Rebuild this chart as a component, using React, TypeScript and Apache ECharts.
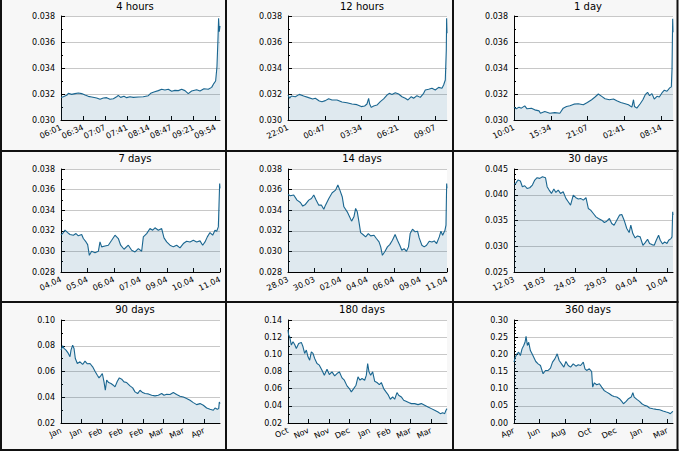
import React, { useEffect, useRef } from "react";
import * as echarts from "echarts";

// x tick labels of every panel
const ticks4h = ["06:01", "06:34", "07:07", "07:41", "08:14", "08:47", "09:21", "09:54"];
const ticks12h = ["22:01", "00:47", "03:34", "06:21", "09:07"];
const ticks1d = ["10:01", "15:34", "21:07", "02:41", "08:14"];
const ticks7d = ["04.04", "05.04", "06.04", "07.04", "09.04", "10.04", "11.04"];
const ticks14d = ["28.03", "30.03", "02.04", "04.04", "06.04", "09.04", "11.04"];
const ticks30d = ["12.03", "18.03", "24.03", "29.03", "04.04", "10.04"];
const ticks90d = ["Jan", "Jan", "Feb", "Feb", "Feb", "Mar", "Mar", "Apr"];
const ticks180d = ["Oct", "Nov", "Nov", "Dec", "Jan", "Feb", "Mar", "Mar"];
const ticks360d = ["Apr", "Jun", "Aug", "Oct", "Dec", "Jan", "Mar"];

// [minutes since start, rate]
const rate4h = [
	[0, 0.03174], [3.5, 0.03179], [8.6, 0.0319], [11.1, 0.03205], [16.1, 0.03197], [21.1, 0.03203],
	[26.2, 0.03208], [31.2, 0.03203], [36.2, 0.03192], [41.2, 0.03182], [46.3, 0.03177], [53.8, 0.03169],
	[58.9, 0.03159], [63.9, 0.03169], [68.9, 0.03172], [73.9, 0.03159], [79, 0.03164], [84, 0.03179],
	[86.5, 0.0319], [90, 0.03174], [95.1, 0.03182], [99.1, 0.03172], [104.1, 0.03179], [109.2, 0.03174],
	[116.7, 0.03177], [124.2, 0.03179], [131.8, 0.03187], [135.3, 0.03205], [140.3, 0.03215], [146.9, 0.03226],
	[151.9, 0.03236], [156.9, 0.03231], [162, 0.03236], [167, 0.03221], [172, 0.03228], [177.1, 0.03226],
	[182.1, 0.03236], [187.1, 0.03226], [192.1, 0.03203], [197.2, 0.03223], [204.7, 0.03233], [209.8, 0.03223],
	[215.8, 0.03241], [222.3, 0.03236], [227.4, 0.03251], [230.9, 0.03282], [233.4, 0.033], [235.4, 0.0341],
	[236.9, 0.03615], [237.9, 0.03782], [238.9, 0.03679], [240, 0.03723],
];

// [minutes since start, rate]
const rate12h = [
	[0, 0.03192], [7.5, 0.03167], [15.1, 0.03185], [33.2, 0.03179], [51.3, 0.03197], [70.9, 0.03185],
	[93.6, 0.03172], [111.7, 0.03162], [123.7, 0.03167], [141.8, 0.03146], [153.9, 0.03141], [169, 0.03149],
	[184.1, 0.03164], [199.2, 0.03154], [221.8, 0.03154], [244.5, 0.03138], [267.1, 0.03133], [289.7, 0.03123],
	[312.4, 0.03118], [332, 0.03103], [347.1, 0.03108], [357.6, 0.03123], [365.2, 0.03167], [369.7, 0.03123],
	[377.3, 0.03097], [387.8, 0.03108], [402.9, 0.03115], [418, 0.03141], [433.1, 0.03162], [448.2, 0.03192],
	[458.7, 0.03205], [470.8, 0.03197], [485.9, 0.0321], [501, 0.032], [516.1, 0.03179], [531.2, 0.03167],
	[543.2, 0.03154], [558.3, 0.03179], [568.9, 0.03167], [584, 0.03187], [599.1, 0.03174], [614.2, 0.03205],
	[621.7, 0.03231], [636.8, 0.03236], [651.9, 0.03244], [667, 0.03231], [682.1, 0.03251], [697.2, 0.03244],
	[704.7, 0.03269], [712.3, 0.03308], [716.8, 0.03538], [718.3, 0.03782], [720, 0.03667],
];

// [hours since start, rate]
const rate1d = [
	[0, 0.03099], [0.35, 0.03086], [0.76, 0.03099], [1.11, 0.03091], [1.62, 0.03109], [1.97, 0.03086],
	[2.63, 0.03091], [3.13, 0.03078], [3.79, 0.0307], [3.99, 0.03052], [4.65, 0.03065], [5.41, 0.03052],
	[6.16, 0.03057], [6.92, 0.03052], [7.43, 0.03091], [7.93, 0.03104], [8.44, 0.03109], [9.04, 0.03122],
	[9.7, 0.03125], [10.46, 0.03117], [11.07, 0.03135], [11.72, 0.03156], [12.23, 0.03177], [12.73, 0.032],
	[13.24, 0.03182], [13.74, 0.03164], [14.4, 0.03156], [15.01, 0.03161], [15.51, 0.03148], [16.12, 0.03135],
	[16.78, 0.03125], [17.28, 0.03117], [17.79, 0.03099], [18.04, 0.03156], [18.19, 0.03104], [18.54, 0.03091],
	[19.05, 0.03125], [19.45, 0.03156], [19.81, 0.03195], [20.16, 0.03213], [20.46, 0.03187], [20.82, 0.03203],
	[21.17, 0.03161], [21.58, 0.03182], [21.93, 0.03177], [22.33, 0.03208], [22.69, 0.03229], [23.09, 0.03221],
	[23.5, 0.03247], [23.75, 0.03255], [23.85, 0.0339], [23.95, 0.03779], [24, 0.03675],
];

// [days since start, rate]
const rate7d = [
	[0, 0.03157], [0.103, 0.03183], [0.176, 0.03206], [0.293, 0.03183], [0.396, 0.03164], [0.543, 0.03157],
	[0.66, 0.03173], [0.763, 0.03151], [0.91, 0.03164], [0.983, 0.03125], [1.101, 0.03092], [1.174, 0.03066],
	[1.247, 0.02962], [1.35, 0.03001], [1.497, 0.02988], [1.644, 0.03001], [1.717, 0.03092], [1.79, 0.03044],
	[1.937, 0.03053], [2.084, 0.0306], [2.231, 0.03108], [2.377, 0.03157], [2.524, 0.03125], [2.627, 0.0306],
	[2.774, 0.03021], [2.964, 0.0306], [3.111, 0.03011], [3.258, 0.02995], [3.405, 0.03027], [3.551, 0.03001],
	[3.625, 0.03141], [3.771, 0.03173], [3.918, 0.03222], [4.036, 0.03206], [4.138, 0.03229], [4.285, 0.03206],
	[4.432, 0.03222], [4.535, 0.03131], [4.652, 0.03092], [4.799, 0.0306], [4.945, 0.03044], [5.092, 0.0306],
	[5.239, 0.03034], [5.386, 0.03076], [5.532, 0.03099], [5.679, 0.03092], [5.826, 0.03108], [5.973, 0.03092],
	[6.119, 0.03102], [6.237, 0.0306], [6.34, 0.03092], [6.442, 0.03141], [6.56, 0.03183], [6.677, 0.03157],
	[6.78, 0.03206], [6.853, 0.03196], [6.927, 0.03238], [6.956, 0.03449], [6.985, 0.0366], [7, 0.03612],
];

// [days since start, rate]
const rate14d = [
	[0, 0.03553], [0.206, 0.0354], [0.501, 0.03547], [0.796, 0.03498], [1.09, 0.03475], [1.297, 0.0344],
	[1.532, 0.03456], [1.827, 0.03498], [2.063, 0.03514], [2.269, 0.03547], [2.475, 0.03498], [2.711, 0.03449],
	[2.947, 0.03449], [3.153, 0.0341], [3.301, 0.03449], [3.595, 0.03514], [3.89, 0.03569], [4.185, 0.03595],
	[4.391, 0.03644], [4.568, 0.03595], [4.774, 0.03531], [4.921, 0.03433], [5.216, 0.03384], [5.422, 0.03336],
	[5.599, 0.03294], [5.805, 0.03336], [5.953, 0.03417], [6.1, 0.03384], [6.248, 0.03287], [6.395, 0.03183],
	[6.601, 0.03164], [6.837, 0.03141], [7.073, 0.03173], [7.279, 0.03151], [7.574, 0.03157], [7.78, 0.03125],
	[8.016, 0.03092], [8.163, 0.03044], [8.311, 0.02962], [8.546, 0.03001], [8.753, 0.03044], [8.959, 0.03066],
	[9.194, 0.03108], [9.43, 0.03164], [9.637, 0.03108], [9.843, 0.0306], [10.02, 0.03011], [10.226, 0.03027],
	[10.432, 0.03001], [10.609, 0.03044], [10.757, 0.03173], [10.963, 0.03216], [11.199, 0.0319], [11.405, 0.03196],
	[11.552, 0.03131], [11.788, 0.0306], [11.994, 0.03044], [12.2, 0.0306], [12.436, 0.03099], [12.672, 0.03092],
	[12.878, 0.03102], [13.085, 0.03076], [13.32, 0.03141], [13.468, 0.03196], [13.615, 0.03157], [13.821, 0.03206],
	[13.91, 0.03255], [13.97, 0.0366], [14, 0.03612],
];

// [days since start, rate]
const rate30d = [
	[0, 0.04201], [0.32, 0.04221], [0.76, 0.04286], [1.2, 0.04266], [1.58, 0.04156], [2.02, 0.04175],
	[2.46, 0.04123], [2.97, 0.04136], [3.47, 0.04188], [3.92, 0.04286], [4.36, 0.04331], [4.86, 0.04318],
	[5.37, 0.04351], [5.94, 0.04331], [6.25, 0.04156], [6.63, 0.04091], [7.07, 0.04026], [7.52, 0.0411],
	[7.9, 0.04045], [8.34, 0.04091], [8.78, 0.04026], [9.28, 0.04058], [9.79, 0.03929], [10.23, 0.03864],
	[10.67, 0.03799], [11.18, 0.03994], [11.68, 0.03942], [12.13, 0.03916], [12.57, 0.03929], [13.07, 0.03896],
	[13.58, 0.03942], [14.02, 0.03734], [14.46, 0.03701], [14.97, 0.03636], [15.47, 0.03571], [15.92, 0.03539],
	[16.55, 0.03506], [17.05, 0.03461], [17.5, 0.03487], [18, 0.03539], [18.44, 0.03442], [18.88, 0.03409],
	[19.39, 0.03506], [19.9, 0.03604], [20.34, 0.03617], [20.78, 0.03506], [21.28, 0.03344], [21.73, 0.03266],
	[22.04, 0.03409], [22.42, 0.03247], [22.86, 0.03162], [23.31, 0.03201], [23.81, 0.03182], [24.32, 0.03019],
	[24.76, 0.03071], [25.2, 0.03136], [25.58, 0.03052], [26.02, 0.03032], [26.46, 0.03019], [26.84, 0.03117],
	[27.28, 0.03214], [27.6, 0.03117], [28.04, 0.03045], [28.42, 0.03084], [28.86, 0.03052], [29.18, 0.03117],
	[29.62, 0.03149], [29.81, 0.03182], [29.94, 0.03669], [30, 0.03604],
];

// [days since start, rate]
const rate90d = [
	[0, 0.07662], [0.94, 0.08], [1.7, 0.07792], [2.83, 0.07662], [4.15, 0.07403], [5.09, 0.07143],
	[5.66, 0.07662], [6.6, 0.08052], [7.36, 0.07792], [8.11, 0.07013], [9.25, 0.06623], [10.75, 0.06753],
	[12.26, 0.06545], [13.58, 0.06805], [14.91, 0.06597], [16.42, 0.06623], [17.92, 0.06364], [19.25, 0.06026],
	[20.57, 0.05714], [21.51, 0.05506], [22.45, 0.05662], [23.4, 0.05844], [24.34, 0.05195], [25.09, 0.04545],
	[25.85, 0.05325], [26.98, 0.05143], [28.3, 0.05065], [29.62, 0.04935], [30.57, 0.04805], [31.89, 0.05247],
	[33.02, 0.05506], [34.34, 0.05403], [35.66, 0.05195], [37.17, 0.05143], [39.06, 0.04883], [40.57, 0.04727],
	[41.89, 0.04416], [43.4, 0.04286], [44.72, 0.04545], [46.23, 0.04364], [47.55, 0.04286], [49.43, 0.0426],
	[51.32, 0.04156], [53.21, 0.04104], [55.09, 0.04156], [56.98, 0.04286], [58.3, 0.04156], [59.81, 0.04234],
	[61.7, 0.04208], [63.58, 0.04364], [65.47, 0.04208], [67.36, 0.04078], [69.25, 0.04026], [71.13, 0.03896],
	[73.02, 0.03766], [74.91, 0.03584], [76.79, 0.03429], [78.68, 0.03506], [80.57, 0.03377], [82.45, 0.03169],
	[84.34, 0.03065], [86.23, 0.02987], [87.17, 0.03169], [88.49, 0.03065], [89.25, 0.03117], [89.62, 0.03636],
	[90, 0.03506],
];

// [days since start, rate]
const rate180d = [
	[0, 0.1283], [0.75, 0.12245], [1.89, 0.12051], [3.77, 0.11077], [5.66, 0.11466], [7.55, 0.11155],
	[9.43, 0.10687], [12.08, 0.11272], [15.09, 0.11388], [16.98, 0.10882], [18.87, 0.10103], [20.75, 0.10492],
	[22.64, 0.09713], [24.53, 0.09324], [26.42, 0.10298], [28.3, 0.10103], [30.19, 0.09519], [32.83, 0.08934],
	[35.47, 0.08739], [38.49, 0.08155], [41.13, 0.07571], [44.15, 0.08272], [46.79, 0.07649], [49.81, 0.0796],
	[52.83, 0.07493], [55.47, 0.07765], [58.11, 0.0796], [61.13, 0.07259], [63.77, 0.06986], [66.79, 0.06324],
	[69.43, 0.06012], [71.7, 0.05623], [74.34, 0.06012], [76.98, 0.06402], [79.25, 0.07376], [81.51, 0.06986],
	[83.77, 0.07181], [86.79, 0.06986], [88.68, 0.07571], [90.19, 0.08934], [91.7, 0.0796], [93.58, 0.07571],
	[95.85, 0.0796], [98.11, 0.0687], [100.75, 0.06714], [103.4, 0.0648], [105.66, 0.06714], [108.3, 0.06012],
	[110.94, 0.05623], [113.21, 0.05311], [115.85, 0.04766], [118.49, 0.05039], [120.75, 0.04766], [123.4, 0.05545],
	[125.28, 0.05233], [128.3, 0.05039], [130.94, 0.04649], [133.58, 0.04532], [136.6, 0.04376], [139.62, 0.04259],
	[143.4, 0.04259], [147.17, 0.04143], [150.94, 0.04259], [154.72, 0.04065], [158.49, 0.0387], [162.26, 0.03675],
	[166.04, 0.0348], [169.81, 0.03286], [172.45, 0.03091], [175.09, 0.03208], [177.36, 0.03091], [178.87, 0.0348],
	[180, 0.03675],
];

// [days since start, rate]
const rate360d = [
	[0, 0.1772], [3, 0.1917], [6.8, 0.2014], [10.6, 0.2062], [14.4, 0.1965], [18.2, 0.2159],
	[22, 0.2256], [25, 0.2352], [27.3, 0.2527], [30.3, 0.2256], [33.3, 0.2352], [37.1, 0.211],
	[40.9, 0.2014], [44.7, 0.1917], [49.3, 0.1791], [54.6, 0.1723], [59.9, 0.1675], [65.9, 0.1433],
	[71.2, 0.153], [77.3, 0.153], [82.6, 0.1597], [87.2, 0.1772], [92.5, 0.1868], [97.8, 0.2014],
	[102.3, 0.182], [107.6, 0.1723], [112.9, 0.1626], [117.5, 0.1791], [122.8, 0.1675], [128.1, 0.1626],
	[134.1, 0.1723], [140.2, 0.1655], [145.5, 0.1694], [150.8, 0.1675], [156.9, 0.1772], [160.7, 0.1578],
	[164.5, 0.153], [170.5, 0.1578], [175.8, 0.15], [178.1, 0.1045], [181.9, 0.1171], [187.2, 0.1113],
	[193.3, 0.1142], [198.6, 0.1045], [203.9, 0.0949], [209.9, 0.09], [216, 0.0852], [221.3, 0.0803],
	[226.6, 0.0774], [232.7, 0.0755], [238.7, 0.0707], [244, 0.0629], [247.8, 0.0561], [253.9, 0.0629],
	[259.2, 0.0707], [265.3, 0.0755], [269.1, 0.0881], [272.1, 0.0755], [278.1, 0.0687], [284.2, 0.0629],
	[289.5, 0.0561], [295.6, 0.0513], [300.9, 0.0494], [306.9, 0.0436], [314.5, 0.0416], [322.1, 0.0397],
	[329.7, 0.0387], [337.3, 0.0348], [344.8, 0.0319], [350.1, 0.03], [353.9, 0.0271], [357.7, 0.0319],
	[360, 0.0339],
];

// unit: seconds per data time unit, span / step: axis length and tick spacing in seconds
const panels = [
	{ title: "4 hours", data: rate4h, unit: 60, span: 14400, step: 2000, ticks: ticks4h, y: [0.03, 0.038, 0.002], digits: 3, minor: 2 },
	{ title: "12 hours", data: rate12h, unit: 60, span: 43200, step: 10000, ticks: ticks12h, y: [0.03, 0.038, 0.002], digits: 3, minor: 2 },
	{ title: "1 day", data: rate1d, unit: 3600, span: 86400, step: 20000, ticks: ticks1d, y: [0.03, 0.038, 0.002], digits: 3, minor: 2 },
	{ title: "7 days", data: rate7d, unit: 86400, span: 604800, step: 100800, ticks: ticks7d, y: [0.028, 0.038, 0.002], digits: 3, minor: 2 },
	{ title: "14 days", data: rate14d, unit: 86400, span: 1209600, step: 201600, ticks: ticks14d, y: [0.028, 0.038, 0.002], digits: 3, minor: 2 },
	{ title: "30 days", data: rate30d, unit: 86400, span: 2592000, step: 500000, ticks: ticks30d, y: [0.025, 0.045, 0.005], digits: 3, minor: 5 },
	{ title: "90 days", data: rate90d, unit: 86400, span: 7776000, step: 1000000, ticks: ticks90d, y: [0.02, 0.1, 0.02], digits: 2, minor: 2 },
	{ title: "180 days", data: rate180d, unit: 86400, span: 15552000, step: 2000000, ticks: ticks180d, y: [0.02, 0.14, 0.02], digits: 2, minor: 2 },
	{ title: "360 days", data: rate360d, unit: 86400, span: 31104000, step: 5000000, ticks: ticks360d, y: [0, 0.3, 0.05], digits: 2, minor: 5 },
];

const FONT = "DejaVu Sans";
const LINE = "#1a6690";
const FILL = "rgba(26,102,144,0.2)";

const plotLeft = [61, 288, 514];
const plotTop = [16, 169, 320];
const plotW = 159;
const plotH = [104, 103, 103];
const titleY = [7, 159, 310];

// cell edges of the 3x3 table
const colEdges = [1, 226, 453, 677.5];
const rowEdges = [0, 151, 302, 450];

function buildOption() {
	const grid: any[] = [];
	const xAxis: any[] = [];
	const yAxis: any[] = [];
	const series: any[] = [];
	const title: any[] = [];

	panels.forEach((p, i) => {
		const row = Math.floor(i / 3);
		const col = i % 3;
		const tickValues = p.ticks.map((_, k) => k * p.step);

		grid.push({
			left: plotLeft[col],
			top: plotTop[row],
			width: plotW,
			height: plotH[row],
			show: true,
			backgroundColor: "#fff",
			borderWidth: 0,
		});

		title.push({
			text: p.title,
			left: plotLeft[col] + 74,
			top: titleY[row] - 6,
			textAlign: "center",
			padding: 0,
			textStyle: { fontSize: 10, fontWeight: "normal", color: "#000", fontFamily: FONT },
		});

		xAxis.push({
			type: "value",
			gridIndex: i,
			min: 0,
			max: p.span,
			interval: p.step,
			axisLine: { show: true, onZero: false, lineStyle: { color: "#000", width: 1 } },
			axisTick: { show: true, inside: true, length: 4, lineStyle: { color: "#000" }, customValues: tickValues },
			splitLine: { show: false },
			axisLabel: {
				customValues: tickValues,
				rotate: 25,
				margin: 7,
				fontSize: 8,
				color: "#000",
				fontFamily: FONT,
				formatter: (v: number) => {
					const k = Math.round(v / p.step);
					if (Math.abs(v - k * p.step) > p.step * 0.01) return "";
					return p.ticks[k] ?? "";
				},
			},
		});

		yAxis.push({
			type: "value",
			gridIndex: i,
			min: p.y[0],
			max: p.y[1],
			interval: p.y[2],
			axisLine: { show: true, lineStyle: { color: "#000", width: 1 } },
			axisTick: { show: true, inside: true, length: 4, lineStyle: { color: "#000" } },
			minorTick: { show: true, splitNumber: p.minor, length: 2, lineStyle: { color: "#000" } },
			splitLine: { show: true, lineStyle: { color: "#c8c8c8", width: 1 } },
			axisLabel: {
				margin: 6,
				fontSize: 8,
				color: "#000",
				fontFamily: FONT,
				formatter: (v: number) => v.toFixed(p.digits),
			},
		});

		series.push({
			type: "line",
			xAxisIndex: i,
			yAxisIndex: i,
			data: p.data.map(([t, v]) => [t * p.unit, v]),
			symbol: "none",
			showSymbol: false,
			silent: true,
			lineStyle: { color: LINE, width: 1.1 },
			areaStyle: { color: FILL, origin: "start" },
		});
	});

	const graphic: any[] = [];
	for (let r = 0; r < 3; r++) {
		for (let c = 0; c < 3; c++) {
			graphic.push({
				type: "rect",
				z: -100,
				silent: true,
				shape: {
					x: colEdges[c],
					y: rowEdges[r],
					width: colEdges[c + 1] - colEdges[c],
					height: rowEdges[r + 1] - rowEdges[r],
				},
				style: { fill: "#f7f7f7" },
			});
		}
	}
	colEdges.forEach((x) => {
		graphic.push({
			type: "line",
			z: 100,
			silent: true,
			shape: { x1: x, y1: 0, x2: x, y2: rowEdges[3] + 1 },
			style: { stroke: "#111", lineWidth: 2 },
		});
	});
	rowEdges.slice(1).forEach((y) => {
		graphic.push({
			type: "line",
			z: 100,
			silent: true,
			shape: { x1: colEdges[0] - 1, y1: y, x2: colEdges[3] + 1, y2: y },
			style: { stroke: "#111", lineWidth: 2 },
		});
	});

	return {
		animation: false,
		backgroundColor: "#fff",
		textStyle: { fontFamily: FONT },
		title,
		grid,
		xAxis,
		yAxis,
		series,
		graphic,
	};
}

export default function App() {
	const $chart = useRef<HTMLDivElement>(null);

	useEffect(() => {
		document.body.style.margin = "0";
		const chart = echarts.init($chart.current, null, { renderer: "svg" });
		chart.setOption(buildOption());
		return () => {
			chart.dispose();
		};
	}, []);

	return <div ref={$chart} style={{ width: 680, height: 453 }} />;
}
